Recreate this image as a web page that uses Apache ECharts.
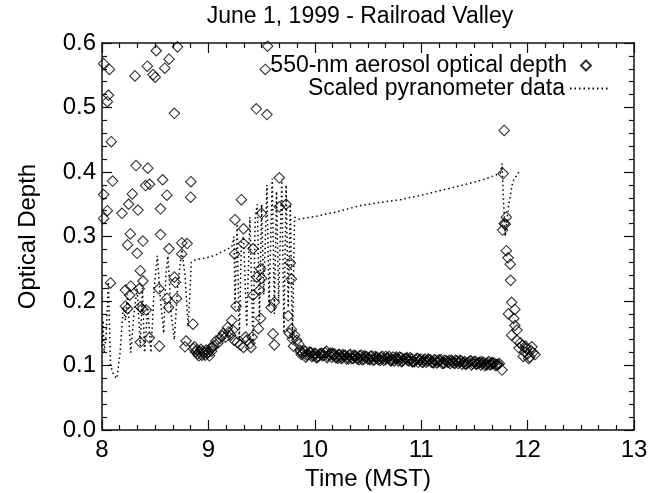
<!DOCTYPE html>
<html>
<head>
<meta charset="utf-8">
<script src="https://cdn.jsdelivr.net/npm/echarts@6/dist/echarts.min.js"></script>
<style>html,body{margin:0;padding:0;background:#fff;}#c{width:664px;height:493px;}</style>
</head>
<body>
<div id="c"></div>
<script>
// ---- data (time in hours MST, aerosol optical depth) ----
const morningTime = [8.015,8.07,8.06,8.05,8.087,8.10,8.015,8.05,8.015,8.188,8.25,8.285,8.338,8.32,8.43,8.41,8.447,8.57,8.61,8.55,8.836,8.833,8.31,8.426,8.48,8.50,8.51,8.59,8.63,8.71,8.68,
  8.266,8.24,8.33,8.385,8.55,8.63,8.75,8.80,8.75,8.36,8.08,8.385,8.22,8.27,8.26,8.35,8.535,8.61,8.68,8.69,8.70,8.22,8.24,8.36,8.376,8.416,8.626,8.855,8.36,8.445,8.54,8.79,8.78];
const morningValue = [0.568,0.559,0.519,0.509,0.447,0.386,0.365,0.340,0.328,0.336,0.350,0.366,0.341,0.410,0.406,0.379,0.381,0.388,0.364,0.343,0.385,0.361,0.549,0.564,0.551,0.547,0.588,0.561,0.575,0.594,0.491,
  0.304,0.287,0.274,0.293,0.303,0.281,0.290,0.289,0.273,0.247,0.228,0.231,0.217,0.223,0.209,0.219,0.219,0.204,0.237,0.229,0.204,0.192,0.188,0.191,0.188,0.186,0.190,0.164,0.136,0.143,0.130,0.138,0.129];

const midTime = [8.86,8.88,8.90,8.92,8.94,8.96,8.98,9.00,9.02,8.87,8.93,
  8.89,8.91,8.95,8.97,8.99,9.01,9.03,9.04,
  9.05,9.07,9.09,9.11,9.13,9.14,9.16,9.18,9.19,9.21,9.22,9.24,9.23,9.26,
  9.27,9.30,9.33,9.35,9.36,9.39,9.41,9.40,
  9.45,9.55,9.556,9.535,9.31,9.25,9.667,9.50,9.73,9.667,
  9.33,9.33,9.246,9.42,9.455,9.47,9.42,9.49,9.50,9.48,9.49,
  9.607,9.62,9.59,9.62,9.77,9.78,9.75,9.76,9.78,9.79,9.81,9.83,9.85,9.80];
const midValue = [0.126,0.121,0.118,0.122,0.116,0.119,0.124,0.121,0.127,0.129,0.125,
  0.124,0.115,0.122,0.116,0.119,0.115,0.122,0.128,
  0.131,0.138,0.135,0.142,0.146,0.150,0.144,0.159,0.152,0.147,0.170,0.139,0.155,0.192,
  0.136,0.132,0.128,0.144,0.139,0.134,0.144,0.128,
  0.498,0.489,0.595,0.559,0.357,0.326,0.391,0.336,0.350,0.346,
  0.312,0.289,0.273,0.209,0.237,0.157,0.281,0.250,0.235,0.217,0.173,
  0.149,0.132,0.190,0.198,0.259,0.234,0.177,0.150,0.156,0.141,0.147,0.139,0.133,0.130];

const bandTime = [9.86,9.885,9.91,9.935,9.96,9.985,10.01,10.035,10.06,10.085,
  10.11,10.135,10.16,10.185,10.21,10.235,10.26,10.285,10.31,10.335,
  10.36,10.385,10.41,10.435,10.46,10.485,10.51,10.535,10.56,10.585,
  10.61,10.635,10.66,10.685,10.71,10.735,10.76,10.785,10.81,10.835,
  10.86,10.885,10.91,10.935,10.96,10.985,11.01,11.035,11.06,11.085,
  11.11,11.135,11.16,11.185,11.21,11.235,11.26,11.285,11.31,11.335,
  11.36,11.385,11.41,11.435,11.46,11.485,11.51,11.535,11.56,11.585,
  11.61,11.635,11.66,11.685,11.71,11.735];
const bandValue = [0.124,0.119,0.122,0.117,0.120,0.115,0.118,0.114,0.119,0.116,
  0.122,0.117,0.113,0.118,0.114,0.117,0.112,0.116,0.113,0.117,
  0.111,0.115,0.112,0.116,0.110,0.114,0.111,0.115,0.109,0.113,
  0.110,0.114,0.109,0.112,0.108,0.113,0.110,0.107,0.112,0.109,
  0.111,0.107,0.110,0.106,0.111,0.108,0.105,0.110,0.107,0.109,
  0.105,0.108,0.106,0.109,0.104,0.107,0.105,0.108,0.104,0.107,
  0.105,0.102,0.106,0.104,0.107,0.103,0.106,0.104,0.101,0.105,
  0.103,0.106,0.102,0.104,0.101,0.103];

const bandTime2 = [9.8725,9.8975,9.9225,9.9475,9.9725,9.9975,10.0225,10.0475,10.0725,10.0975,
  10.1225,10.1475,10.1725,10.1975,10.2225,10.2475,10.2725,10.2975,10.3225,10.3475,
  10.3725,10.3975,10.4225,10.4475,10.4725,10.4975,10.5225,10.5475,10.5725,10.5975,
  10.6225,10.6475,10.6725,10.6975,10.7225,10.7475,10.7725,10.7975,10.8225,10.8475,
  10.8725,10.8975,10.9225,10.9475,10.9725,10.9975,11.0225,11.0475,11.0725,11.0975,
  11.1225,11.1475,11.1725,11.1975,11.2225,11.2475,11.2725,11.2975,11.3225,11.3475,
  11.3725,11.3975,11.4225,11.4475,11.4725,11.4975,11.5225,11.5475,11.5725,11.5975,
  11.6225,11.6475,11.6725,11.6975,11.7225];
const bandValue2 = [0.117,0.123,0.116,0.121,0.114,0.119,0.113,0.118,0.115,0.120,
  0.115,0.119,0.116,0.112,0.117,0.111,0.115,0.110,0.116,0.111,
  0.114,0.110,0.115,0.109,0.113,0.110,0.114,0.108,0.112,0.109,
  0.113,0.108,0.111,0.114,0.109,0.107,0.111,0.113,0.107,0.111,
  0.108,0.112,0.106,0.109,0.105,0.110,0.108,0.105,0.109,0.105,
  0.109,0.104,0.107,0.103,0.108,0.105,0.103,0.106,0.108,0.103,
  0.107,0.105,0.102,0.105,0.101,0.106,0.102,0.105,0.103,0.100,
  0.104,0.101,0.103,0.100,0.102];

const bandTime3 = [9.866,9.916,9.966,10.016,10.066,10.116,10.166,10.216,10.266,10.316,
  10.366,10.416,10.466,10.516,10.566,10.616,10.666,10.716,10.766,10.816,
  10.866,10.916,10.966,11.016,11.066,11.116,11.166,11.216,11.266,11.316,
  11.366,11.416,11.466,11.516,11.566,11.616,11.666,11.716];
const bandValue3 = [0.121,0.113,0.120,0.112,0.118,0.112,0.119,0.111,0.117,0.110,
  0.116,0.109,0.115,0.109,0.114,0.108,0.114,0.107,0.113,0.106,
  0.112,0.106,0.111,0.105,0.110,0.104,0.109,0.104,0.108,0.103,
  0.108,0.102,0.107,0.102,0.106,0.101,0.105,0.101];

const noonTime = [11.76,11.78,11.77,11.80,11.78,11.79,11.765,11.80,11.816,11.837,11.84,11.85,11.88,11.82,11.87,11.88,11.90,11.85,11.90,11.95,11.99,12.04,12.07,12.01,11.93,11.97,12.00,12.03,11.96,12.05,11.92,11.98,12.02];
const noonValue = [0.093,0.4645,0.3975,0.330,0.320,0.319,0.310,0.278,0.267,0.257,0.232,0.198,0.187,0.180,0.173,0.162,0.155,0.147,0.139,0.131,0.126,0.129,0.117,0.111,0.135,0.121,0.118,0.123,0.114,0.120,0.127,0.130,0.113];

// scaled pyranometer data
const pyrTime = [8.00,8.01,8.02,8.04,8.06,8.08,8.11,8.14,8.17,8.20,8.22,8.24,8.27,8.30,8.33,8.36,8.38,8.40,8.43,8.46,8.49,8.52,8.55,8.58,8.60,8.62,8.65,8.68,8.71,8.75,8.78,8.81,8.84,8.86,8.95,9.05,9.15,9.22,
  9.24,9.25,9.27,9.29,9.31,9.33,9.36,9.39,9.42,9.44,9.46,9.48,9.50,9.52,9.55,9.57,9.60,9.62,9.64,9.66,9.69,9.71,9.73,9.75,9.77,9.79,9.81,
  9.85,10.0,10.2,10.43,10.62,10.8,11.0,11.2,11.4,11.6,11.745,11.76,11.775,11.79,11.82,11.86,11.93];
const pyrValue = [0.13,0.17,0.12,0.15,0.23,0.10,0.085,0.08,0.12,0.19,0.17,0.21,0.12,0.18,0.22,0.13,0.22,0.12,0.19,0.12,0.22,0.27,0.20,0.15,0.24,0.27,0.18,0.14,0.22,0.28,0.24,0.16,0.26,0.263,0.266,0.27,0.278,0.284,
  0.30,0.19,0.32,0.14,0.29,0.30,0.16,0.33,0.13,0.33,0.35,0.17,0.35,0.21,0.38,0.19,0.39,0.18,0.37,0.20,0.39,0.15,0.38,0.19,0.35,0.14,0.33,
  0.327,0.331,0.338,0.348,0.353,0.357,0.364,0.372,0.380,0.389,0.398,0.413,0.35,0.30,0.346,0.385,0.403];

const xTicks = [8, 9, 10, 11, 12, 13];
const yTicks = [0.0, 0.1, 0.2, 0.3, 0.4, 0.5, 0.6];

const zip = (a, b) => a.map((t, i) => [t, b[i]]);
const aodData = [].concat(
  zip(morningTime, morningValue), zip(midTime, midValue),
  zip(bandTime, bandValue), zip(bandTime2, bandValue2), zip(bandTime3, bandValue3),
  zip(noonTime, noonValue));
const pyrData = zip(pyrTime, pyrValue);

const FONT = '"Liberation Sans", Arial, Helvetica, sans-serif';
const INK = '#000';
const axisCommon = {
  type: 'value',
  splitLine: { show: false },
  axisLine: { show: true, onZero: false, lineStyle: { color: '#111', width: 1.5 } },
  axisTick: { show: true, inside: true, length: 10, lineStyle: { color: '#111', width: 1.2 } },
  minorTick: { show: true, length: 5, lineStyle: { color: '#111', width: 1.2 } },
  minorSplitLine: { show: false }
};

const chart = echarts.init(document.getElementById('c'), null, { renderer: 'canvas' });
chart.setOption({
  animation: false,
  backgroundColor: '#fff',
  textStyle: { fontFamily: FONT },
  title: {
    text: 'June 1, 1999 - Railroad Valley',
    left: 355, top: 0, textAlign: 'center',
    textStyle: { fontFamily: FONT, fontSize: 23, fontWeight: 'normal', color: INK }
  },
  legend: [
    {
      data: [{ name: '550-nm aerosol optical depth', icon: 'diamond' }],
      right: 72, top: 54, align: 'right', padding: 0,
      itemWidth: 10, itemHeight: 10,
      textStyle: { fontFamily: FONT, fontSize: 23, color: INK, padding: [0, 9, 0, 0] }
    },
    {
      data: ['Scaled pyranometer data'],
      right: 53, top: 77, align: 'right', padding: 0,
      itemWidth: 40, itemHeight: 10,
      textStyle: { fontFamily: FONT, fontSize: 23, color: INK }
    }
  ],
  grid: { left: 102, right: 30, top: 43, bottom: 63, containLabel: false, outerBoundsMode: 'none' },
  xAxis: [
    Object.assign({}, axisCommon, {
      min: xTicks[0], max: xTicks[xTicks.length - 1], interval: 1, position: 'bottom',
      minorTick: Object.assign({}, axisCommon.minorTick, { splitNumber: 6 }),
      axisLabel: { fontFamily: FONT, fontSize: 24, color: INK, margin: 8 },
      name: 'Time (MST)', nameLocation: 'middle', nameGap: 35,
      nameTextStyle: { fontFamily: FONT, fontSize: 24, color: INK }
    }),
    Object.assign({}, axisCommon, {
      min: xTicks[0], max: xTicks[xTicks.length - 1], interval: 1, position: 'top',
      minorTick: Object.assign({}, axisCommon.minorTick, { splitNumber: 6 }),
      axisLabel: { show: false }
    })
  ],
  yAxis: [
    Object.assign({}, axisCommon, {
      min: yTicks[0], max: yTicks[yTicks.length - 1], interval: 0.1, position: 'left',
      minorTick: Object.assign({}, axisCommon.minorTick, { splitNumber: 5 }),
      axisLabel: { fontFamily: FONT, fontSize: 24, color: INK, margin: 6, formatter: v => v.toFixed(1) },
      name: 'Optical Depth', nameLocation: 'middle', nameGap: 62,
      nameTextStyle: { fontFamily: FONT, fontSize: 24, color: INK }
    }),
    Object.assign({}, axisCommon, {
      min: yTicks[0], max: yTicks[yTicks.length - 1], interval: 0.1, position: 'right',
      minorTick: Object.assign({}, axisCommon.minorTick, { splitNumber: 5 }),
      axisLabel: { show: false }
    })
  ],
  series: [
    {
      name: '550-nm aerosol optical depth',
      type: 'scatter',
      xAxisIndex: 0, yAxisIndex: 0,
      symbol: 'diamond', symbolSize: 10.5,
      itemStyle: { color: 'rgba(255,255,255,0)', borderColor: '#000', borderWidth: 1.1 },
      data: aodData, z: 3
    },
    {
      name: 'Scaled pyranometer data',
      type: 'line',
      xAxisIndex: 0, yAxisIndex: 0,
      symbol: 'none', showSymbol: false,
      itemStyle: { color: 'rgba(0,0,0,0)', opacity: 0 },
      lineStyle: { color: '#000', width: 1.5, type: [1.5, 3] },
      data: pyrData, z: 2
    }
  ]
});
</script>
</body>
</html>
